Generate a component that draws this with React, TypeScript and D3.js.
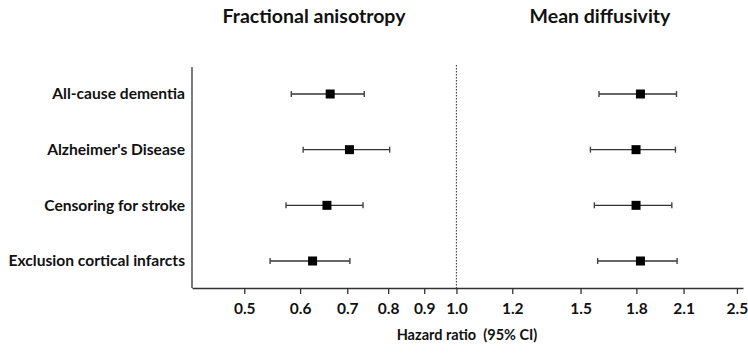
import { useEffect, useRef } from "react";
import * as d3 from "d3";

const outcomes = [
  "All-cause dementia",
  "Alzheimer's Disease",
  "Censoring for stroke",
  "Exclusion cortical infarcts",
];

// fractional anisotropy: hazard ratio, lower, upper
const faHr = [0.662, 0.705, 0.655, 0.625];
const faLow = [0.583, 0.606, 0.573, 0.544];
const faHigh = [0.74, 0.804, 0.737, 0.706];

// mean diffusivity
const mdHr = [1.824, 1.798, 1.798, 1.824];
const mdLow = [1.593, 1.549, 1.569, 1.586];
const mdHigh = [2.052, 2.045, 2.021, 2.056];

const tickValues = [0.5, 0.6, 0.7, 0.8, 0.9, 1.0, 1.2, 1.5, 1.8, 2.1, 2.5];

const W = 748;
const H = 355;
const FONT = "Lato, 'Open Sans', sans-serif";

export default function App() {
  const svgRef = useRef<SVGSVGElement | null>(null);

  useEffect(() => {
    if (!svgRef.current) return;
    const svg = d3.select(svgRef.current);
    svg.selectAll("*").remove();

    const left = 192;
    const right = 743;
    const top = 67;
    const bottom = 288;

    const x = d3
      .scaleLog()
      .domain([0.4215, 2.55])
      .range([left, right]);

    const y = d3
      .scalePoint<string>()
      .domain(outcomes)
      .range([94, 261]);

    // titles
    svg
      .append("text")
      .text("Fractional anisotropy")
      .attr("x", 314)
      .attr("y", 23)
      .attr("text-anchor", "middle")
      .style("font-family", FONT)
      .style("font-weight", "bold")
      .style("font-size", "19.5px")
      .style("fill", "#111");

    svg
      .append("text")
      .text("Mean diffusivity")
      .attr("x", 600)
      .attr("y", 23)
      .attr("text-anchor", "middle")
      .style("font-family", FONT)
      .style("font-weight", "bold")
      .style("font-size", "19.5px")
      .style("fill", "#111");

    // row labels
    svg
      .selectAll("text.row")
      .data(outcomes)
      .join("text")
      .attr("class", "row")
      .text((d) => d)
      .attr("x", 185)
      .attr("y", (d) => y(d)!)
      .attr("dy", ".35em")
      .attr("text-anchor", "end")
      .style("font-family", FONT)
      .style("font-weight", "bold")
      .style("font-size", "15.6px")
      .style("fill", "#111");

    // axes
    svg
      .append("line")
      .attr("x1", left)
      .attr("x2", left)
      .attr("y1", top)
      .attr("y2", bottom)
      .attr("stroke", "#333")
      .attr("stroke-width", 1.3);

    const xAxis = svg
      .append("g")
      .attr("transform", `translate(0, ${bottom})`)
      .call(
        d3
          .axisBottom(x)
          .tickValues(tickValues)
          .tickFormat(d3.format(".1f"))
          .tickSize(6)
          .tickSizeOuter(0)
          .tickPadding(9)
      );
    xAxis.select(".domain").attr("stroke", "#333").attr("stroke-width", 1.3);
    xAxis.selectAll(".tick line").attr("stroke", "#333").attr("stroke-width", 1.3);
    xAxis
      .selectAll(".tick text")
      .style("font-family", FONT)
      .style("font-weight", "bold")
      .style("font-size", "15.5px")
      .style("fill", "#111");

    // null line
    svg
      .append("line")
      .attr("x1", x(1))
      .attr("x2", x(1))
      .attr("y1", 65)
      .attr("y2", bottom)
      .attr("stroke", "#444")
      .attr("stroke-width", 1.2)
      .attr("stroke-dasharray", "1.5,1.5");

    svg
      .append("text")
      .text("Hazard ratio  (95% CI)")
      .attr("x", 467)
      .attr("y", 340)
      .attr("text-anchor", "middle")
      .style("font-family", FONT)
      .style("font-weight", "bold")
      .style("font-size", "14.5px")
      .style("white-space", "pre")
      .style("fill", "#111");

    const drawSeries = (hr: number[], lo: number[], hi: number[]) => {
      const g = svg.append("g");
      outcomes.forEach((o, i) => {
        const cy = y(o)!;
        g.append("line")
          .attr("x1", x(lo[i]))
          .attr("x2", x(hi[i]))
          .attr("y1", cy)
          .attr("y2", cy)
          .attr("stroke", "#333")
          .attr("stroke-width", 1.4);
        [lo[i], hi[i]].forEach((v) => {
          g.append("line")
            .attr("x1", x(v))
            .attr("x2", x(v))
            .attr("y1", cy - 3)
            .attr("y2", cy + 3)
            .attr("stroke", "#444")
            .attr("stroke-width", 1.4);
        });
        g.append("rect")
          .attr("x", x(hr[i]) - 4.5)
          .attr("y", cy - 4.5)
          .attr("width", 9)
          .attr("height", 9)
          .attr("fill", "#000");
      });
    };

    drawSeries(faHr, faLow, faHigh);
    drawSeries(mdHr, mdLow, mdHigh);
  }, []);

  return (
    <svg
      ref={svgRef}
      width={W}
      height={H}
      style={{ position: "absolute", left: 0, top: 0, background: "#fff" }}
    />
  );
}
